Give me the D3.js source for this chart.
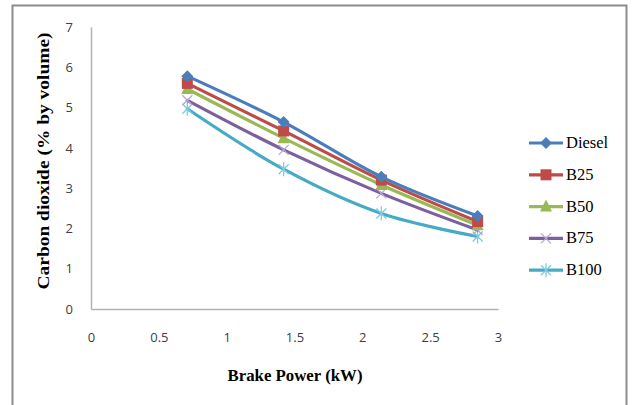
<!DOCTYPE html>
<html>
<head>
<meta charset="utf-8">
<script src="https://cdn.jsdelivr.net/npm/d3@7"></script>
<style>
  body { margin: 0; background: #fff; }
  svg { display: block; }
</style>
</head>
<body>
<div id="chart"></div>
<script>
// brake power (kW)
const brakePower = [0.71, 1.42, 2.14, 2.85];
const seriesNames = ["Diesel", "B25", "B50", "B75", "B100"];
const diesel = [5.78, 4.64, 3.28, 2.31];
const b25 = [5.6, 4.42, 3.2, 2.17];
const b50 = [5.46, 4.24, 3.08, 2.08];
const b75 = [5.18, 3.95, 2.87, 1.96];
const b100 = [4.97, 3.47, 2.37, 1.8];
const xTicks = [0, 0.5, 1, 1.5, 2, 2.5, 3];
const yTicks = [0, 1, 2, 3, 4, 5, 6, 7];

const colors = ["#4a7ebb", "#be4b48", "#98b954", "#7d5fa0", "#46aac5"];
const shapes = ["diamond", "square", "triangle", "cross", "star"];
const values = [diesel, b25, b50, b75, b100];

const svg = d3.select("#chart").append("svg")
    .attr("width", 635)
    .attr("height", 405);

// outer frame
svg.append("rect")
    .attr("x", 12.5).attr("y", 5.5)
    .attr("width", 614).attr("height", 420)
    .attr("fill", "none")
    .attr("stroke", "#8c8c8c")
    .attr("stroke-width", 2);

const x = d3.scaleLinear().domain([0, 3]).range([91, 498]);
const y = d3.scaleLinear().domain([0, 7]).range([309, 27]);

// axes
const xAxis = svg.append("g")
    .attr("transform", `translate(0,${y(0)})`)
    .call(d3.axisBottom(x).tickValues(xTicks).tickSize(0).tickPadding(24)
        .tickFormat(d3.format("")));
const yAxis = svg.append("g")
    .attr("transform", `translate(${x(0)},0)`)
    .call(d3.axisLeft(y).tickValues(yTicks).tickSize(0).tickPadding(18)
        .tickFormat(d3.format("d")));
[xAxis, yAxis].forEach(g => {
    g.select(".domain").attr("stroke", "#b3b3b3").attr("stroke-width", 1.5);
    g.selectAll("text")
        .attr("font-family", "Open Sans, Liberation Sans, sans-serif")
        .attr("font-size", 13)
        .attr("fill", "#404040");
});

// axis titles
svg.append("text")
    .attr("x", 295).attr("y", 381)
    .attr("text-anchor", "middle")
    .attr("font-family", "Liberation Serif, serif")
    .attr("font-weight", "bold")
    .attr("font-size", 16)
    .attr("textLength", 135)
    .attr("lengthAdjust", "spacingAndGlyphs")
    .text("Brake Power (kW)");
svg.append("text")
    .attr("transform", "translate(49,161) rotate(-90)")
    .attr("text-anchor", "middle")
    .attr("font-family", "Liberation Serif, serif")
    .attr("font-weight", "bold")
    .attr("font-size", 16)
    .attr("textLength", 257)
    .attr("lengthAdjust", "spacingAndGlyphs")
    .text("Carbon dioxide (% by volume)");

const line = d3.line()
    .x((d, i) => x(brakePower[i]))
    .y(d => y(d))
    .curve(d3.curveCatmullRom.alpha(0.5));

function drawMarker(g, shape, color, cx, cy) {
    if (shape === "diamond") {
        g.append("path")
            .attr("d", `M${cx},${cy - 6}L${cx + 6},${cy}L${cx},${cy + 6}L${cx - 6},${cy}Z`)
            .attr("fill", color);
    } else if (shape === "square") {
        g.append("rect")
            .attr("x", cx - 5.5).attr("y", cy - 5.5)
            .attr("width", 11).attr("height", 11)
            .attr("fill", color);
    } else if (shape === "triangle") {
        g.append("path")
            .attr("d", `M${cx},${cy - 7}L${cx + 6},${cy + 5}L${cx - 6},${cy + 5}Z`)
            .attr("fill", color);
    } else if (shape === "cross") {
        g.append("path")
            .attr("d", `M${cx - 5},${cy - 5}L${cx + 5},${cy + 5}M${cx + 5},${cy - 5}L${cx - 5},${cy + 5}`)
            .attr("stroke", "#b9a7d2").attr("stroke-width", 1.3);
    } else {
        g.append("path")
            .attr("d", `M${cx - 5},${cy - 5}L${cx + 5},${cy + 5}M${cx + 5},${cy - 5}L${cx - 5},${cy + 5}M${cx},${cy - 7}L${cx},${cy + 7}`)
            .attr("stroke", "#7fcbe0").attr("stroke-width", 1.3);
    }
}

// series, drawn back to front
for (let s = values.length - 1; s >= 0; s--) {
    const g = svg.append("g");
    g.append("path")
        .datum(values[s])
        .attr("d", line)
        .attr("fill", "none")
        .attr("stroke", colors[s])
        .attr("stroke-width", 3.2)
        .attr("stroke-linecap", "round");
    values[s].forEach((v, i) => drawMarker(g, shapes[s], colors[s], x(brakePower[i]), y(v)));
}

// legend
const legend = svg.append("g");
seriesNames.forEach((name, i) => {
    const ly = 143 + i * 31.8;
    const g = legend.append("g");
    g.append("line")
        .attr("x1", 529).attr("x2", 563)
        .attr("y1", ly).attr("y2", ly)
        .attr("stroke", colors[i])
        .attr("stroke-width", 3.2);
    drawMarker(g, shapes[i], colors[i], 546, ly);
    g.append("text")
        .attr("x", 566).attr("y", ly + 5)
        .attr("font-family", "Liberation Serif, serif")
        .attr("font-size", 16.5)
        .attr("fill", "#000")
        .text(name);
});
</script>
</body>
</html>
